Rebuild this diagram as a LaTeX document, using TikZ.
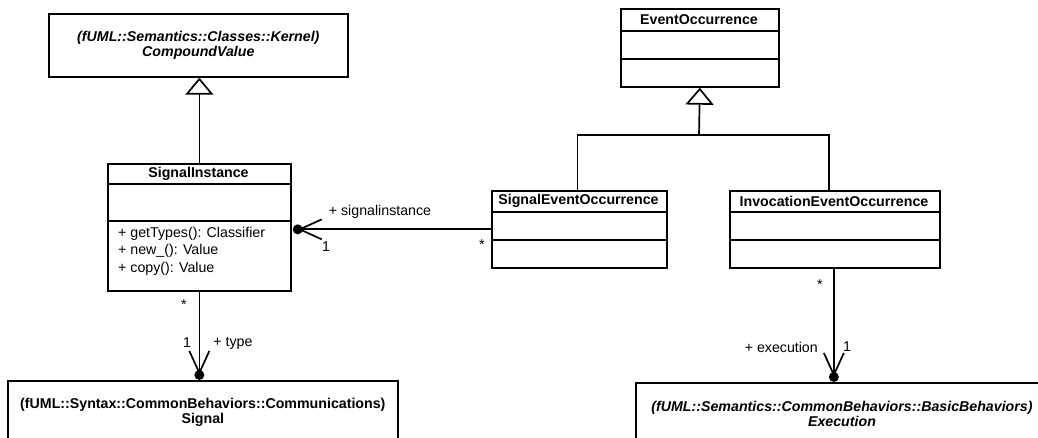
\documentclass[tikz,border=0pt]{standalone}
\usepackage{fontspec}
\setmainfont{Liberation Sans}
\usetikzlibrary{arrows.meta}

\begin{document}
\begin{tikzpicture}[
    x=1pt, y=-1pt,
    every node/.style={font=\fontsize{14.2}{15}\selectfont, inner sep=0pt},
    box/.style={draw, line width=1.7pt, anchor=north west},
    title/.style={font=\fontsize{14.2}{15}\selectfont\bfseries},
    ititle/.style={font=\fontsize{14.2}{15}\selectfont\bfseries\itshape},
    line/.style={line width=1.7pt},
    gen/.style={line, -{Triangle[open, length=17pt, width=28pt]}},
    assoc/.style={line, -{Straight Barb[length=22pt, width=20pt]}}
]
    \useasboundingbox (0,0) rectangle (1038,438);
    \clip (0,0) rectangle (1038,438);

    % Imported classes
    \node[box, ititle, align=center, minimum width=299, minimum height=63] (cval) at (48,13) {(fUML::Semantics::Classes::Kernel)\\CompoundValue};
    \node[box, title, align=center, minimum width=390, minimum height=63] (signal) at (7,380) {(fUML::Syntax::CommonBehaviors::Communications)\\Signal};
    \node[box, minimum width=450, minimum height=64] (exec) at (635,382) {};
    \node[ititle, align=center] (exectxt) at (842,414) {(fUML::Semantics::CommonBehaviors::BasicBehaviors)\\Execution};

    % SignalInstance
    \node[box, minimum width=183, minimum height=127] (siginst) at (107,163) {};
    \node[title] (siginstname) at (198.5,174) {SignalInstance};
    \node[anchor=west, align=left, font=\fontsize{14.2}{17.5}\selectfont] (siginstops) at (118,251) {+ getTypes(): Classifier\\+ new\_(): Value\\+ copy(): Value};
    \draw[line] (siginst.west |- 0,184) -- (siginst.east |- 0,184);
    \draw[line] (siginst.west |- 0,221) -- (siginst.east |- 0,221);

    % EventOccurrence
    \node[box, minimum width=158, minimum height=78] (evtocc) at (620,8) {};
    \node[title] (evtoccname) at (699,20) {EventOccurrence};
    \draw[line] (evtocc.west |- 0,31) -- (evtocc.east |- 0,31);
    \draw[line] (evtocc.west |- 0,59) -- (evtocc.east |- 0,59);

    % SignalEventOccurrence
    \node[box, minimum width=175, minimum height=77] (sigevt) at (491,190) {};
    \node[title] (sigevtname) at (578.5,201) {SignalEventOccurrence};
    \draw[line] (sigevt.west |- 0,212) -- (sigevt.east |- 0,212);
    \draw[line] (sigevt.west |- 0,240) -- (sigevt.east |- 0,240);

    % InvocationEventOccurrence
    \node[box, minimum width=210, minimum height=77] (invevt) at (729,190) {};
    \node[title] (invevtname) at (834,201) {InvocationEventOccurrence};
    \draw[line] (invevt.west |- 0,212) -- (invevt.east |- 0,212);
    \draw[line] (invevt.west |- 0,240) -- (invevt.east |- 0,240);

    % Generalizations
    \draw[gen] (siginst.north) -- (siginst.north |- cval.south);
    \coordinate (join) at (699,135);
    \draw[line] ([xshift=-2pt]sigevt.north) |- (join) -| ([xshift=-6pt]invevt.north);
    \draw[gen] (join) -- (evtocc.south);

    % Associations
    \path (siginst.east |- sigevt.west) ++(6,0) coordinate (sidot);
    \draw[assoc] (sigevt.west) -- (sidot);
    \fill (sidot) circle (5);
    \node (siname) at (380,212) {+ signalinstance};
    \node (sione) at (326,247) {1};
    \node (simany) at (482,245) {*};

    \path (siginst.south |- signal.north) ++(0,-5) coordinate (tydot);
    \draw[assoc] (siginst.south) -- (tydot);
    \fill (tydot) circle (5);
    \node (tymany) at (184,305) {*};
    \node (tyone) at (187,343) {1};
    \node (tyname) at (233,343) {+ type};

    \path ([xshift=-1pt]invevt.south |- exec.north) ++(0,-5) coordinate (exdot);
    \draw[assoc] (exdot |- invevt.south) -- (exdot);
    \fill (exdot) circle (5);
    \node (exmany) at (820,285) {*};
    \node[anchor=east] (exname) at (818,347) {+ execution};
    \node (exone) at (847,347) {1};
\end{tikzpicture}
\end{document}
